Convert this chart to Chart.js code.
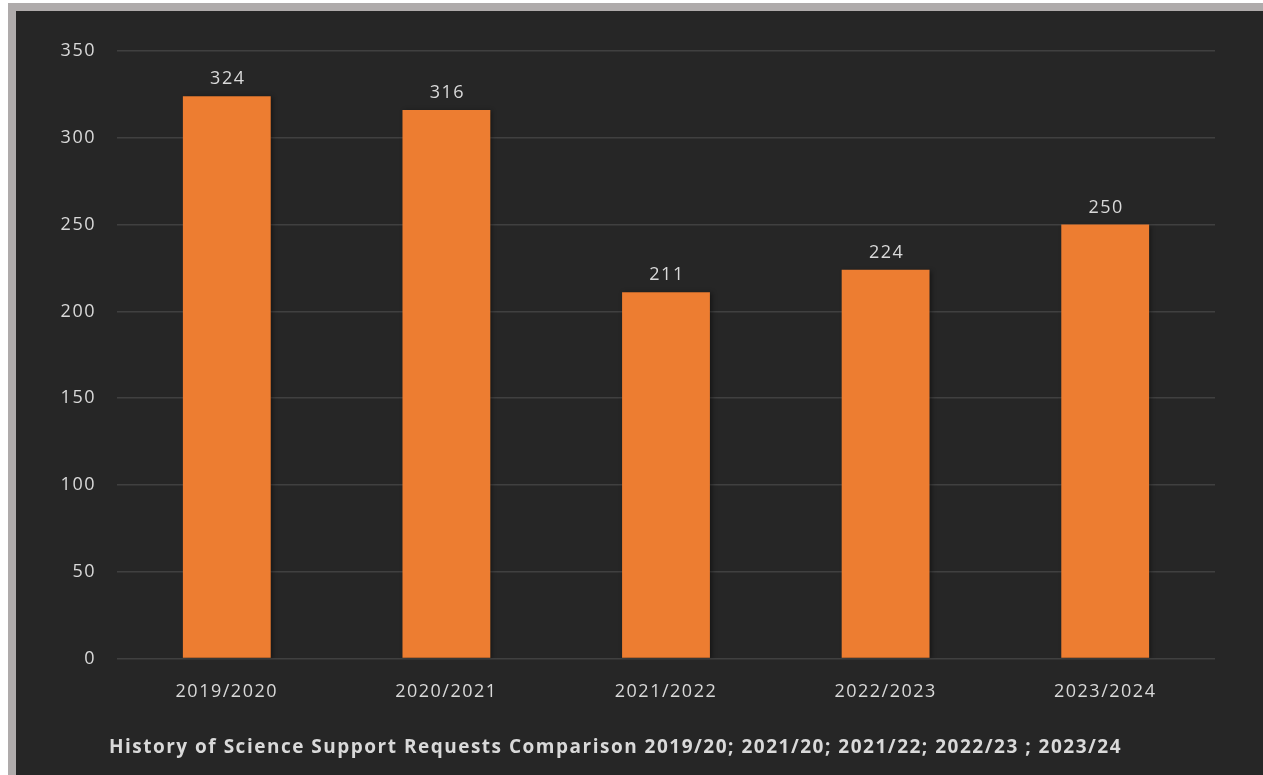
<!DOCTYPE html>
<html>
<head>
<meta charset="utf-8">
<script src="https://cdn.jsdelivr.net/npm/chart.js@4"></script>
<style>
  html, body { margin: 0; padding: 0; background: #ffffff; overflow: hidden; }
  #frame {
    position: absolute; left: 8px; top: 3px; width: 1300px; height: 820px;
    border: 8px solid #afabab; background: #262626;
  }
  #wrap { position: absolute; left: 16px; top: 11px; width: 1204px; height: 764px; }
</style>
</head>
<body>
<div id="frame"></div>
<div id="wrap"><canvas id="chart"></canvas></div>
<script>
// data
const years = ['2019/2020', '2020/2021', '2021/2022', '2022/2023', '2023/2024'];
const requests = [324, 316, 211, 224, 250];
const yTicks = [0, 50, 100, 150, 200, 250, 300, 350];

const textColor = '#d9d9d9';
const fontFamily = '"Open Sans", Lato, sans-serif';
const letterGap = '1.5px';

// the original text is spread out a bit, so widen the letters
const spacing = {
    id: 'spacing',
    beforeLayout(chart) { chart.ctx.letterSpacing = letterGap; },
    beforeDraw(chart) { chart.ctx.letterSpacing = letterGap; }
};

// soft shadow under the bars
const barShadow = {
    id: 'barShadow',
    beforeDatasetsDraw(chart) {
        const c = chart.ctx;
        c.save();
        c.shadowColor = 'rgba(0, 0, 0, 0.45)';
        c.shadowBlur = 5;
        c.shadowOffsetX = 2;
        c.shadowOffsetY = 1;
    },
    afterDatasetsDraw(chart) {
        chart.ctx.restore();
    }
};

// write the value above each bar
const valueLabels = {
    id: 'valueLabels',
    afterDatasetsDraw(chart) {
        const c = chart.ctx;
        const meta = chart.getDatasetMeta(0);
        c.save();
        c.letterSpacing = letterGap;
        c.fillStyle = textColor;
        c.font = '18px ' + fontFamily;
        c.textAlign = 'center';
        c.textBaseline = 'bottom';
        meta.data.forEach((bar, i) => {
            c.fillText(requests[i], bar.x + 1, bar.y - 8);
        });
        c.restore();
    }
};

const ctx = document.getElementById('chart').getContext('2d');
new Chart(ctx, {
    type: 'bar',
    data: {
        labels: years,
        datasets: [{
            data: requests,
            backgroundColor: '#ed7d31',
            categoryPercentage: 1.0,
            barPercentage: 0.4
        }]
    },
    options: {
        responsive: true,
        maintainAspectRatio: false,
        animation: false,
        layout: { padding: { top: 40, right: 5, left: 0, bottom: 8 } },
        plugins: {
            legend: { display: false },
            tooltip: { enabled: false },
            title: {
                display: true,
                position: 'bottom',
                text: 'History of Science Support Requests Comparison 2019/20; 2021/20; 2021/22; 2022/23 ; 2023/24',
                color: textColor,
                font: { family: fontFamily, size: 19, weight: 'bold' },
                padding: { top: 20, bottom: 8 }
            }
        },
        scales: {
            x: {
                grid: { display: false },
                border: { display: false },
                ticks: { color: textColor, font: { family: fontFamily, size: 18 }, padding: 14 }
            },
            y: {
                min: 0,
                max: 350,
                afterBuildTicks: axis => { axis.ticks = yTicks.map(v => ({ value: v })); },
                afterFit: axis => { axis.width = 101; },
                grid: { color: '#404040', lineWidth: 1.5, drawTicks: false },
                border: { display: false },
                ticks: { color: textColor, font: { family: fontFamily, size: 18 }, padding: 21 }
            }
        }
    },
    plugins: [spacing, barShadow, valueLabels]
});
</script>
</body>
</html>
